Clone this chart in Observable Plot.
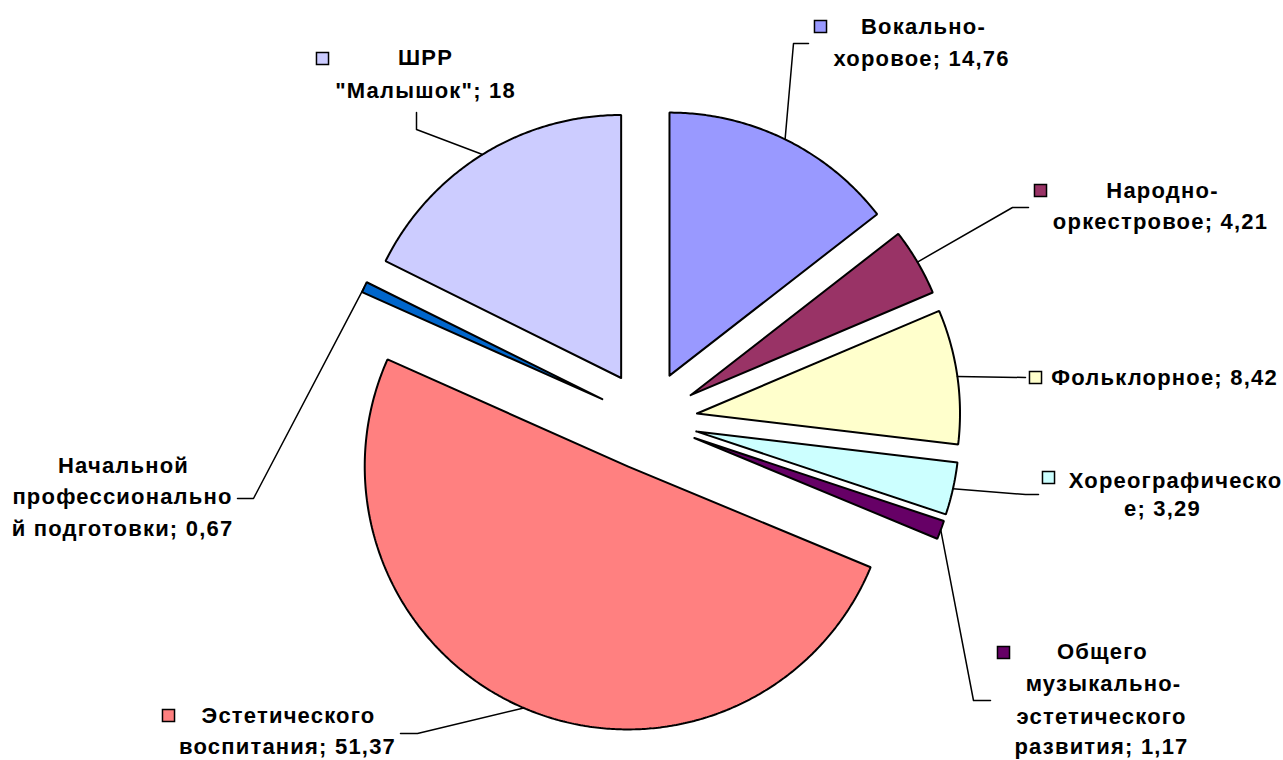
<!DOCTYPE html>
<html><head><meta charset="utf-8">
<script src="https://cdn.jsdelivr.net/npm/d3@7"></script>
<script src="https://cdn.jsdelivr.net/npm/@observablehq/plot@0.6"></script>
<style>html,body{margin:0;padding:0;background:#fff;overflow:hidden;}</style>
</head><body><div id="chart"></div>
<script>
// ---- data ----
const names = ["Вокально-хоровое","Народно-оркестровое","Фольклорное","Хореографическое","Общего музыкально-эстетического развития","Эстетического воспитания","Начальной профессиональной подготовки","ШРР \"Малышок\""];
const values = [14.76, 4.21, 8.42, 3.29, 1.17, 51.37, 0.67, 18];
const labelLines = [
  ["Вокально-", "хоровое; 14,76"],
  ["Народно-", "оркестровое; 4,21"],
  ["Фольклорное; 8,42"],
  ["Хореографическо", "е; 3,29"],
  ["Общего", "музыкально-", "эстетического", "развития; 1,17"],
  ["Эстетического", "воспитания; 51,37"],
  ["Начальной", "профессионально", "й подготовки; 0,67"],
  ["ШРР", "\"Малышок\"; 18"]
];
const colors = ["#9999FF","#993366","#FFFFCC","#CCFFFF","#660066","#FF8080","#0066CC","#CCCCFF"];
const showKey = [true, true, true, true, true, true, false, true];

// ---- layout ----
const W = 1283, H = 760;
const CX = 647, CY = 420, R = 263, EXPLODE = 50;
const FONT = 22;
const linePos = [
  [[923,26],[921,58]],
  [[1162,190],[1160,221]],
  [[1164,377]],
  [[1175,480],[1162,508]],
  [[1102,651],[1103,683],[1101,716],[1101,746]],
  [[288,715],[287,746]],
  [[123,465],[122,496],[122,528]],
  [[425,57],[425,90]]
];
const keyPos = [[820,26],[1040,190],[1035,377],[1048,477],[1003,652],[168,715],null,[322,58]];
const leaderElbows = [
  [[793,43],[808,43]],
  [[1012,207],[1028,207]],
  [[1025,377]],
  [[1025,494],[1038,494]],
  [[973,700],[990,700]],
  [[417,733],[400,733]],
  [[253,498],[237,498]],
  [[416,129],[416,112]]
];

// ---- derived geometry ----
const total = d3.sum(values);
let acc = 0;
const slices = values.map((v, i) => {
  const a0 = acc / total * 2 * Math.PI; acc += v;
  const a1 = acc / total * 2 * Math.PI;
  const am = (a0 + a1) / 2;
  const ox = CX + EXPLODE * Math.sin(am), oy = CY - EXPLODE * Math.cos(am);
  return {i, name: names[i], a0, a1, am, ox, oy};
});
const slicePts = slices.flatMap(s => {
  const pts = [{name: s.name, x: s.ox, y: s.oy}];
  const n = Math.max(2, Math.ceil((s.a1 - s.a0) / (Math.PI / 360)));
  for (let k = 0; k <= n; k++) {
    const a = s.a0 + (s.a1 - s.a0) * k / n;
    pts.push({name: s.name, x: s.ox + R * Math.sin(a), y: s.oy - R * Math.cos(a)});
  }
  pts.push({name: s.name, x: s.ox, y: s.oy});
  return pts;
});
const leaderPts = slices.flatMap(s => {
  const start = {name: s.name, x: s.ox + R * Math.sin(s.am), y: s.oy - R * Math.cos(s.am)};
  return [start, ...leaderElbows[s.i].map(([x, y]) => ({name: s.name, x, y}))];
});
const keys = slices.filter(s => showKey[s.i]).map(s => ({name: s.name, x: keyPos[s.i][0], y: keyPos[s.i][1]}));
const textPts = slices.flatMap(s => labelLines[s.i].map((t, j) => ({t, x: linePos[s.i][j][0], y: linePos[s.i][j][1]})));

const chart = Plot.plot({
  width: W, height: H, margin: 0,
  x: {domain: [0, W], range: [0, W], axis: null},
  y: {domain: [0, H], range: [0, H], axis: null},
  color: {domain: names, range: colors},
  style: {fontFamily: "'Liberation Sans', Arial, sans-serif", background: "#fff", letterSpacing: "1.2px"},
  marks: [
    Plot.line(slicePts, {x: "x", y: "y", z: "name", fill: "name", stroke: "#000", strokeWidth: 2, strokeLinejoin: "miter"}),
    Plot.line(leaderPts, {x: "x", y: "y", z: "name", stroke: "#000", strokeWidth: 1.5}),
    Plot.dot(keys, {x: "x", y: "y", fill: "name", stroke: "#000", strokeWidth: 1.5, symbol: "square", r: 6.8}),
    Plot.text(textPts, {x: "x", y: "y", text: "t", fontSize: FONT, fontWeight: "bold", fill: "#000", textAnchor: "middle"})
  ]
});
document.getElementById("chart").appendChild(chart);
</script>
</body></html>
